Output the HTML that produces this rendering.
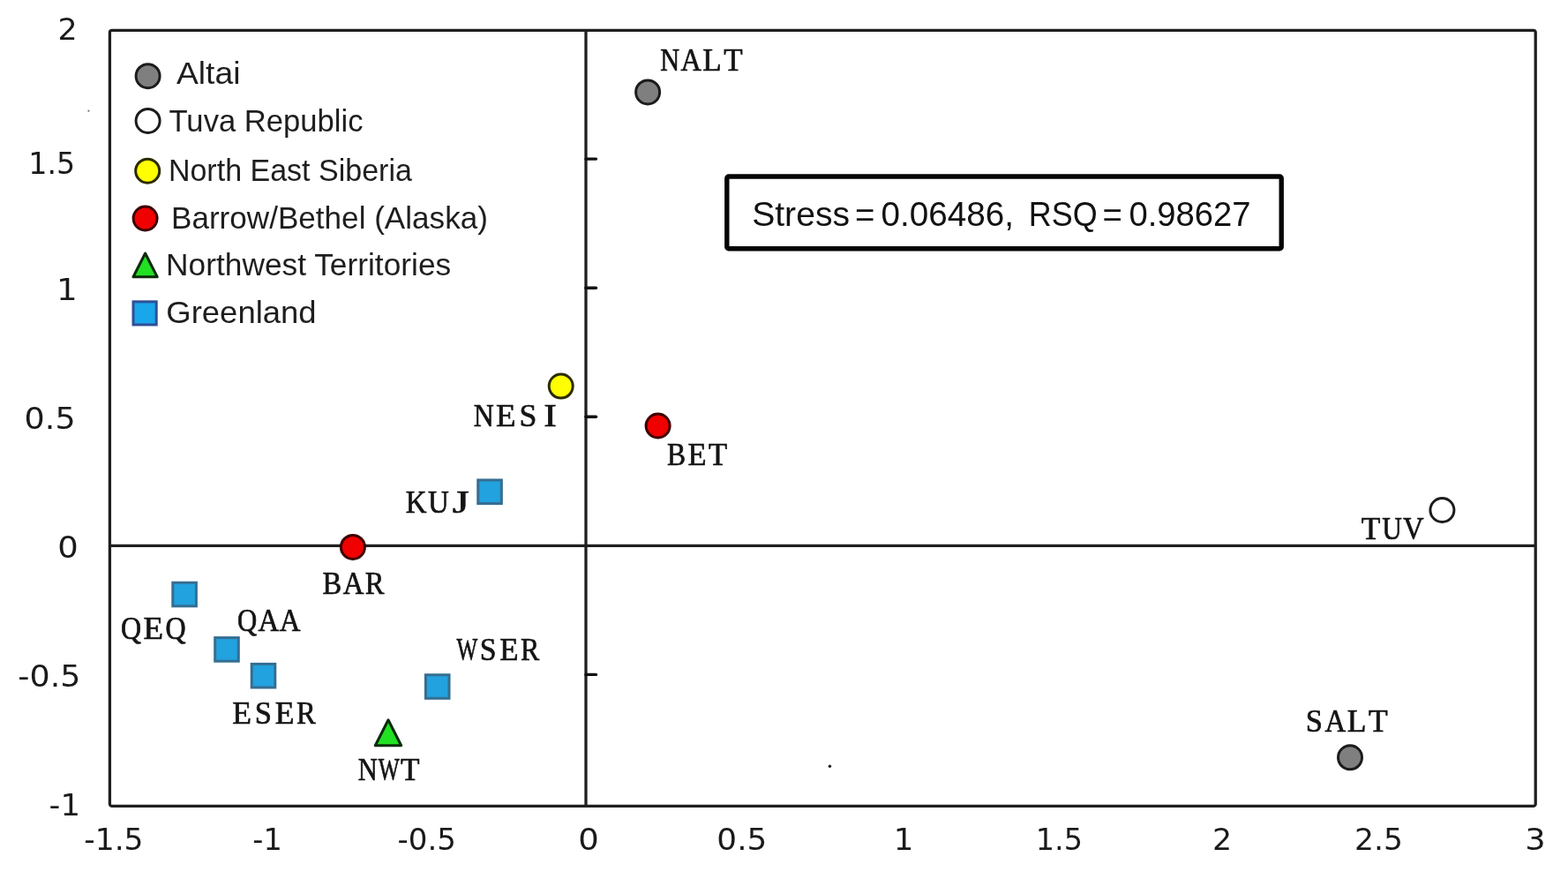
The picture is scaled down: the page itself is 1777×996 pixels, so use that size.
<!DOCTYPE html>
<html>
<head>
<meta charset="utf-8">
<title>MDS plot</title>
<style>
html,body{margin:0;padding:0;background:#fff;}
body{width:1777px;height:996px;overflow:hidden;}
svg{display:block;}
.lb{font-family:"Liberation Serif",serif;font-weight:normal;font-size:36px;fill:#141414;}
.lg{font-family:"Liberation Sans",sans-serif;font-size:37.5px;fill:#1e1e1e;}
.st{font-family:"Liberation Sans",sans-serif;font-size:37.5px;fill:#121212;}
.tk{font-family:"DejaVu Sans",sans-serif;font-size:33px;fill:#1a1a1a;}
</style>
</head>
<body>
<svg width="1777" height="996" viewBox="0 0 1777 996">
<rect x="0" y="0" width="1777" height="996" fill="#fff"/>
<rect x="124.4" y="34.3" width="1615.8" height="879.1" fill="none" stroke="#1f1f1f" stroke-width="3.3" rx="2.5"/>
<line x1="124" y1="618.4" x2="1740" y2="618.4" stroke="#1f1f1f" stroke-width="3.3"/>
<line x1="664" y1="34" x2="664" y2="913" stroke="#1f1f1f" stroke-width="3.3"/>
<line x1="664" y1="180.1" x2="675.5" y2="180.1" stroke="#111" stroke-width="3.4" stroke-linecap="round"/>
<line x1="664" y1="326.2" x2="675.5" y2="326.2" stroke="#111" stroke-width="3.4" stroke-linecap="round"/>
<line x1="664" y1="472.3" x2="675.5" y2="472.3" stroke="#111" stroke-width="3.4" stroke-linecap="round"/>
<line x1="664" y1="764.4" x2="675.5" y2="764.4" stroke="#111" stroke-width="3.4" stroke-linecap="round"/>
<rect x="823.8" y="200" width="628.4" height="81.8" fill="none" stroke="#050505" stroke-width="5.4" rx="2"/>
<circle cx="167.6" cy="86.2" r="13.5" fill="#7f7f7f" stroke="#1c1c1c" stroke-width="3"/>
<circle cx="167.6" cy="136.9" r="13.5" fill="#fff" stroke="#1c1c1c" stroke-width="3"/>
<circle cx="167.2" cy="193.7" r="13.5" fill="#ffff00" stroke="#2b2b00" stroke-width="3"/>
<circle cx="164.6" cy="247.5" r="13.5" fill="#f00000" stroke="#3c0000" stroke-width="3"/>
<polygon points="164.60,287.00 178.20,313.80 151.00,313.80" fill="#22e022" stroke="#0b2b0b" stroke-width="3" stroke-linejoin="round"/>
<rect x="151.00" y="341.85" width="26.20" height="26.10" fill="#1aa6ea" stroke="#2f4f96" stroke-width="3"/>
<circle cx="734.1" cy="104.4" r="13.5" fill="#7f7f7f" stroke="#1c1c1c" stroke-width="3"/>
<circle cx="1530" cy="858.3" r="13.5" fill="#7f7f7f" stroke="#1c1c1c" stroke-width="3"/>
<circle cx="1634.4" cy="578" r="13.5" fill="#fff" stroke="#1c1c1c" stroke-width="3"/>
<circle cx="635.7" cy="437.6" r="13.5" fill="#ffff00" stroke="#2b2b00" stroke-width="3"/>
<circle cx="745.6" cy="482.5" r="13.5" fill="#f00000" stroke="#3c0000" stroke-width="3"/>
<circle cx="399.9" cy="619.9" r="13.5" fill="#f00000" stroke="#3c0000" stroke-width="3"/>
<rect x="541.75" y="543.95" width="26.60" height="26.60" fill="#22a2de" stroke="#356e92" stroke-width="3"/>
<rect x="195.80" y="660.20" width="26.60" height="26.60" fill="#22a2de" stroke="#356e92" stroke-width="3"/>
<rect x="243.70" y="722.60" width="26.60" height="26.60" fill="#22a2de" stroke="#356e92" stroke-width="3"/>
<rect x="285.20" y="752.40" width="26.60" height="26.60" fill="#22a2de" stroke="#356e92" stroke-width="3"/>
<rect x="482.40" y="764.70" width="26.60" height="26.60" fill="#22a2de" stroke="#356e92" stroke-width="3"/>
<polygon points="440.00,815.80 454.70,844.70 425.30,844.70" fill="#22e022" stroke="#0b2b0b" stroke-width="3" stroke-linejoin="round"/>
<circle cx="940.4" cy="868.3" r="1.7" fill="#1a1a1a"/>
<circle cx="100.4" cy="125.7" r="1.1" fill="#777"/>
<g transform="translate(747.31,80.20) scale(0.9957,0.9792)"><text y="0" class="lb" stroke="#141414" stroke-width="0.7"><tspan x="1" textLength="22" lengthAdjust="spacingAndGlyphs">N</tspan><tspan x="24.25" textLength="23.5" lengthAdjust="spacingAndGlyphs">A</tspan><tspan x="49.25" textLength="21.5" lengthAdjust="spacingAndGlyphs">L</tspan><tspan x="73.25" textLength="21.5" lengthAdjust="spacingAndGlyphs">T</tspan></text></g>
<g transform="translate(535.63,482.70) scale(1.0463,0.9792)"><text y="0" class="lb" stroke="#141414" stroke-width="0.7"><tspan x="1" textLength="22" lengthAdjust="spacingAndGlyphs">N</tspan><tspan x="25.25" textLength="21.5" lengthAdjust="spacingAndGlyphs">E</tspan><tspan x="50.5" textLength="19" lengthAdjust="spacingAndGlyphs">S</tspan><tspan x="77" textLength="14" lengthAdjust="spacingAndGlyphs">I</tspan></text></g>
<g transform="translate(754.79,527.20) scale(0.9789,0.9792)"><text y="0" class="lb" stroke="#141414" stroke-width="0.7"><tspan x="1.25" textLength="21.5" lengthAdjust="spacingAndGlyphs">B</tspan><tspan x="25.25" textLength="21.5" lengthAdjust="spacingAndGlyphs">E</tspan><tspan x="49.25" textLength="21.5" lengthAdjust="spacingAndGlyphs">T</tspan></text></g>
<g transform="translate(458.88,581.20) scale(1.0558,0.9792)"><text y="0" class="lb" stroke="#141414" stroke-width="0.7"><tspan x="0.75" textLength="22.5" lengthAdjust="spacingAndGlyphs">K</tspan><tspan x="24.75" textLength="22.5" lengthAdjust="spacingAndGlyphs">U</tspan><tspan x="51" textLength="18" lengthAdjust="spacingAndGlyphs">J</tspan></text></g>
<g transform="translate(1541.49,610.70) scale(1.0036,0.9792)"><text y="0" class="lb" stroke="#141414" stroke-width="0.7"><tspan x="1.25" textLength="21.5" lengthAdjust="spacingAndGlyphs">T</tspan><tspan x="24.75" textLength="22.5" lengthAdjust="spacingAndGlyphs">U</tspan><tspan x="48.25" textLength="23.5" lengthAdjust="spacingAndGlyphs">V</tspan></text></g>
<g transform="translate(364.24,673.30) scale(1.0079,0.9792)"><text y="0" class="lb" stroke="#141414" stroke-width="0.7"><tspan x="1.25" textLength="21.5" lengthAdjust="spacingAndGlyphs">B</tspan><tspan x="24.25" textLength="23.5" lengthAdjust="spacingAndGlyphs">A</tspan><tspan x="49.25" textLength="21.5" lengthAdjust="spacingAndGlyphs">R</tspan></text></g>
<g transform="translate(136.00,724.30) scale(1.0516,0.9792)"><text y="0" class="lb" stroke="#141414" stroke-width="0.7"><tspan x="1" textLength="22" lengthAdjust="spacingAndGlyphs">Q</tspan><tspan x="25.25" textLength="21.5" lengthAdjust="spacingAndGlyphs">E</tspan><tspan x="49" textLength="22" lengthAdjust="spacingAndGlyphs">Q</tspan></text></g>
<g transform="translate(268.08,715.10) scale(1.0108,0.9792)"><text y="0" class="lb" stroke="#141414" stroke-width="0.7"><tspan x="1" textLength="22" lengthAdjust="spacingAndGlyphs">Q</tspan><tspan x="24.25" textLength="23.5" lengthAdjust="spacingAndGlyphs">A</tspan><tspan x="48.25" textLength="23.5" lengthAdjust="spacingAndGlyphs">A</tspan></text></g>
<g transform="translate(261.88,819.80) scale(1.0118,0.9792)"><text y="0" class="lb" stroke="#141414" stroke-width="0.7"><tspan x="1.25" textLength="21.5" lengthAdjust="spacingAndGlyphs">E</tspan><tspan x="26.5" textLength="19" lengthAdjust="spacingAndGlyphs">S</tspan><tspan x="49.25" textLength="21.5" lengthAdjust="spacingAndGlyphs">E</tspan><tspan x="73.25" textLength="21.5" lengthAdjust="spacingAndGlyphs">R</tspan></text></g>
<g transform="translate(517.55,748.10) scale(0.9879,0.9792)"><text y="0" class="lb" stroke="#141414" stroke-width="0.7"><tspan x="0" textLength="24" lengthAdjust="spacingAndGlyphs">W</tspan><tspan x="26.5" textLength="19" lengthAdjust="spacingAndGlyphs">S</tspan><tspan x="49.25" textLength="21.5" lengthAdjust="spacingAndGlyphs">E</tspan><tspan x="73.25" textLength="21.5" lengthAdjust="spacingAndGlyphs">R</tspan></text></g>
<g transform="translate(404.70,884.40) scale(1.0014,0.9792)"><text y="0" class="lb" stroke="#141414" stroke-width="0.7"><tspan x="1" textLength="22" lengthAdjust="spacingAndGlyphs">N</tspan><tspan x="24" textLength="24" lengthAdjust="spacingAndGlyphs">W</tspan><tspan x="49.25" textLength="21.5" lengthAdjust="spacingAndGlyphs">T</tspan></text></g>
<g transform="translate(1477.16,828.50) scale(1.0089,0.9792)"><text y="0" class="lb" stroke="#141414" stroke-width="0.7"><tspan x="2.5" textLength="19" lengthAdjust="spacingAndGlyphs">S</tspan><tspan x="24.25" textLength="23.5" lengthAdjust="spacingAndGlyphs">A</tspan><tspan x="49.25" textLength="21.5" lengthAdjust="spacingAndGlyphs">L</tspan><tspan x="73.25" textLength="21.5" lengthAdjust="spacingAndGlyphs">T</tspan></text></g>
<g transform="translate(199.95,94.90) scale(0.9936,0.9560)"><text x="0" y="0" class="lg">Altai</text></g>
<g transform="translate(191.51,148.70) scale(0.9235,0.9560)"><text x="0" y="0" class="lg">Tuva Republic</text></g>
<g transform="translate(190.88,205.20) scale(0.9072,0.9560)"><text x="0" y="0" class="lg">North East Siberia</text></g>
<g transform="translate(193.99,258.90) scale(0.9363,0.9560)"><text x="0" y="0" class="lg">Barrow/Bethel (Alaska)</text></g>
<g transform="translate(188.07,312.30) scale(0.9417,0.9560)"><text x="0" y="0" class="lg">Northwest Territories</text></g>
<g transform="translate(188.36,365.70) scale(0.9722,0.9560)"><text x="0" y="0" class="lg">Greenland</text></g>
<g transform="translate(852.17,255.80) scale(1.0431,1.0210)"><text x="0" y="0" class="st">Stress</text></g>
<g transform="translate(968.91,257.31) scale(1.0247,1.0583)"><text x="0" y="0" class="st">=</text></g>
<g transform="translate(998.45,255.80) scale(1.0319,1.0210)"><text x="0" y="0" class="st">0.06486,</text></g>
<g transform="translate(1165.83,255.80) scale(0.9582,1.0210)"><text x="0" y="0" class="st">RSQ</text></g>
<g transform="translate(1249.52,257.31) scale(1.0192,1.0583)"><text x="0" y="0" class="st">=</text></g>
<g transform="translate(1279.47,255.80) scale(1.0185,1.0210)"><text x="0" y="0" class="st">0.98627</text></g>
<g transform="translate(65.56,45.10) scale(1.0557,1.0000)"><text x="0" y="0" class="tk">2</text></g>
<g transform="translate(32.31,196.60) scale(1.0098,1.0000)"><text x="0" y="0" class="tk">1.5</text></g>
<g transform="translate(63.96,340.00) scale(1.1298,1.0000)"><text x="0" y="0" class="tk">1</text></g>
<g transform="translate(27.61,485.60) scale(1.1048,1.0000)"><text x="0" y="0" class="tk">0.5</text></g>
<g transform="translate(65.18,632.20) scale(1.1212,1.0000)"><text x="0" y="0" class="tk">0</text></g>
<g transform="translate(20.34,777.60) scale(1.1050,1.0000)"><text x="0" y="0" class="tk">-0.5</text></g>
<g transform="translate(55.58,924.30) scale(1.0772,1.0000)"><text x="0" y="0" class="tk">-1</text></g>
<g transform="translate(95.18,962.80) scale(1.0475,1.0000)"><text x="0" y="0" class="tk">-1.5</text></g>
<g transform="translate(286.37,962.80) scale(1.0175,1.0000)"><text x="0" y="0" class="tk">-1</text></g>
<g transform="translate(450.45,962.80) scale(1.0317,1.0000)"><text x="0" y="0" class="tk">-0.5</text></g>
<g transform="translate(655.28,962.80) scale(1.1212,1.0000)"><text x="0" y="0" class="tk">0</text></g>
<g transform="translate(812.36,962.80) scale(1.0857,1.0000)"><text x="0" y="0" class="tk">0.5</text></g>
<g transform="translate(1012.65,962.80) scale(1.0807,1.0000)"><text x="0" y="0" class="tk">1</text></g>
<g transform="translate(1173.80,962.80) scale(1.0142,1.0000)"><text x="0" y="0" class="tk">1.5</text></g>
<g transform="translate(1374.06,962.80) scale(1.0557,1.0000)"><text x="0" y="0" class="tk">2</text></g>
<g transform="translate(1534.98,962.80) scale(1.0468,1.0000)"><text x="0" y="0" class="tk">2.5</text></g>
<g transform="translate(1728.21,962.80) scale(1.1175,1.0000)"><text x="0" y="0" class="tk">3</text></g>
</svg>
</body>
</html>
